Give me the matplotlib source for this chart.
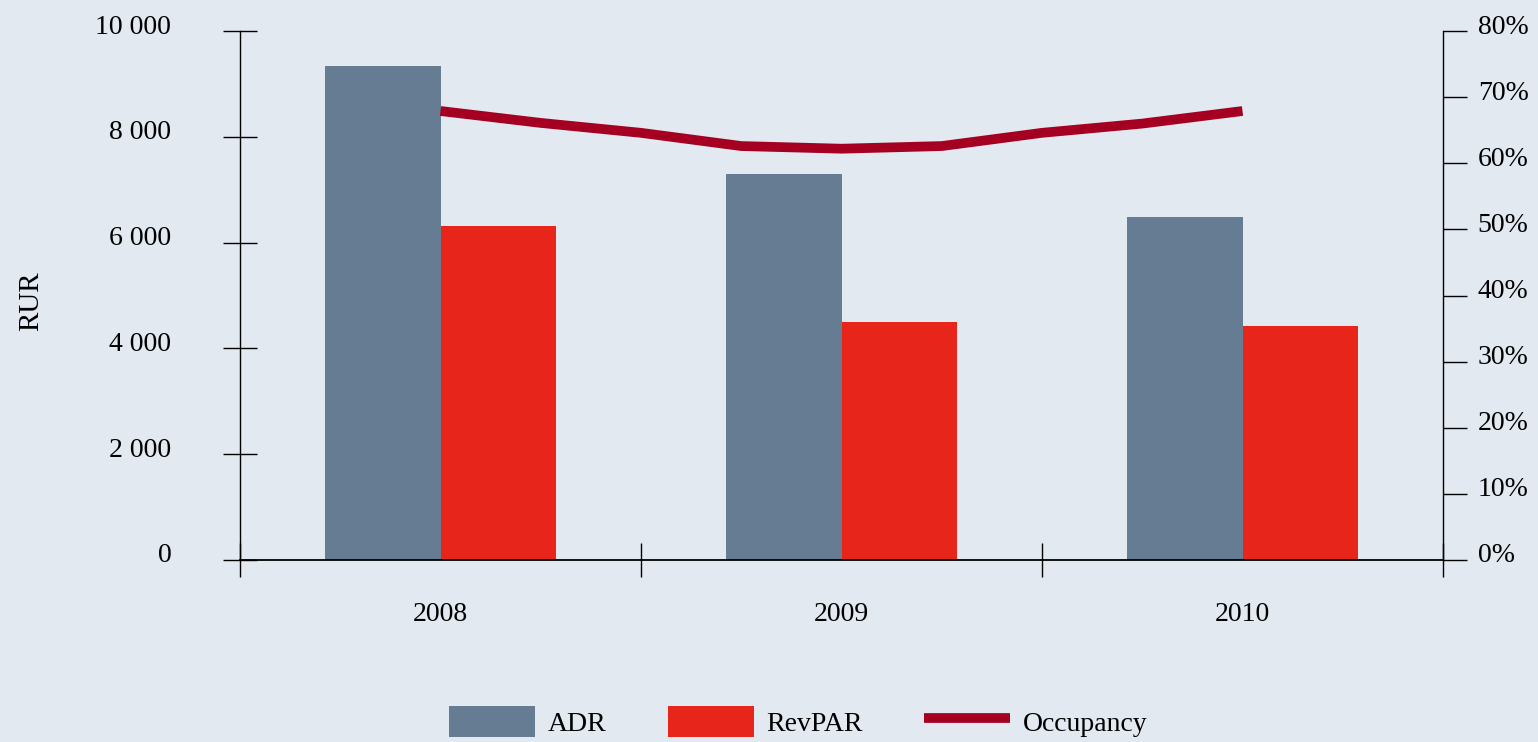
import numpy as np
import matplotlib
matplotlib.use("Agg")
import matplotlib.pyplot as plt
import matplotlib.transforms as mtransforms
from matplotlib.ticker import FuncFormatter

years = ["2008", "2009", "2010"]
adr = [9340, 7300, 6480]
revpar = [6310, 4500, 4420]
# occupancy as drawn (smoothed line, read at quarter-year steps)
occupancy = [67.9, 66.1, 64.6, 62.6, 62.2, 62.6, 64.6, 66.0, 67.9]

bg = "#e2e9f0"
c_adr = "#667c92"
c_rev = "#e8251a"
c_occ = "#a50021"

plt.rcParams["font.family"] = ["Liberation Serif", "DejaVu Serif"]

fig = plt.figure(figsize=(15.38, 7.42), dpi=100, facecolor=bg)
ax = fig.add_axes([240 / 1538, 1 - 560 / 742, 1203 / 1538, 529 / 742])
ax.set_facecolor(bg)

x = np.arange(len(years))
w = 0.287
ax.bar(x - w / 2, adr, width=w, color=c_adr, label="ADR", zorder=2)
ax.bar(x + w / 2, revpar, width=w, color=c_rev, label="RevPAR", zorder=2)

ax.set_xlim(-0.5, 2.5)
ax.set_ylim(0, 10000)
ax.set_xticks([-0.5, 0.5, 1.5, 2.5])
ax.set_xticklabels([])
ax.set_xticks(x, minor=True)
ax.set_xticklabels(years, minor=True, fontsize=20)
ax.tick_params(axis="x", which="major", direction="inout", length=24, width=1, color="black")
ax.tick_params(axis="x", which="minor", length=0, pad=30)
ax.set_yticks(np.arange(0, 10001, 2000))
ax.yaxis.set_major_formatter(FuncFormatter(lambda v, p: f"{int(v):,}".replace(",", " ")))
ax.tick_params(axis="y", direction="inout", length=25, width=1, labelsize=20, pad=37)
ax.set_ylabel("RUR", fontsize=21)
ax.yaxis.set_label_coords(-0.163, 0.49)
for s in ["top", "right"]:
    ax.spines[s].set_visible(False)
ax.spines["left"].set_linewidth(1)
ax.spines["bottom"].set_linewidth(1.3)

# nudge tick labels up a little as in the reference
off = mtransforms.ScaledTranslation(0, 7 / 100, fig.dpi_scale_trans)
for lab in ax.get_yticklabels():
    lab.set_transform(lab.get_transform() + off)

ax2 = ax.twinx()
occ_x = np.linspace(0, len(years) - 1, len(occupancy))
ax2.plot(occ_x, occupancy, color=c_occ, lw=7, label="Occupancy", solid_capstyle="butt", zorder=3)
ax2.set_ylim(0, 80)
ax2.set_yticks(np.arange(0, 81, 10))
ax2.yaxis.set_major_formatter(FuncFormatter(lambda v, p: f"{int(v)}%"))
ax2.tick_params(axis="y", direction="out", length=17, width=1, labelsize=20, pad=8)
for s in ["top", "left", "bottom"]:
    ax2.spines[s].set_visible(False)
ax2.spines["right"].set_linewidth(1)
for lab in ax2.get_yticklabels():
    lab.set_transform(lab.get_transform() + off)

h1, l1 = ax.get_legend_handles_labels()
h2, l2 = ax2.get_legend_handles_labels()
fig.legend(h1 + h2, l1 + l2, loc="upper left", bbox_to_anchor=(427 / 1538, 1 - 684 / 742),
           ncol=3, frameon=False, fontsize=20, handlelength=3.1, handleheight=1.3,
           handletextpad=0.45, columnspacing=2.2, borderpad=0.3)

fig.savefig("out.png", dpi=100, facecolor=bg)
